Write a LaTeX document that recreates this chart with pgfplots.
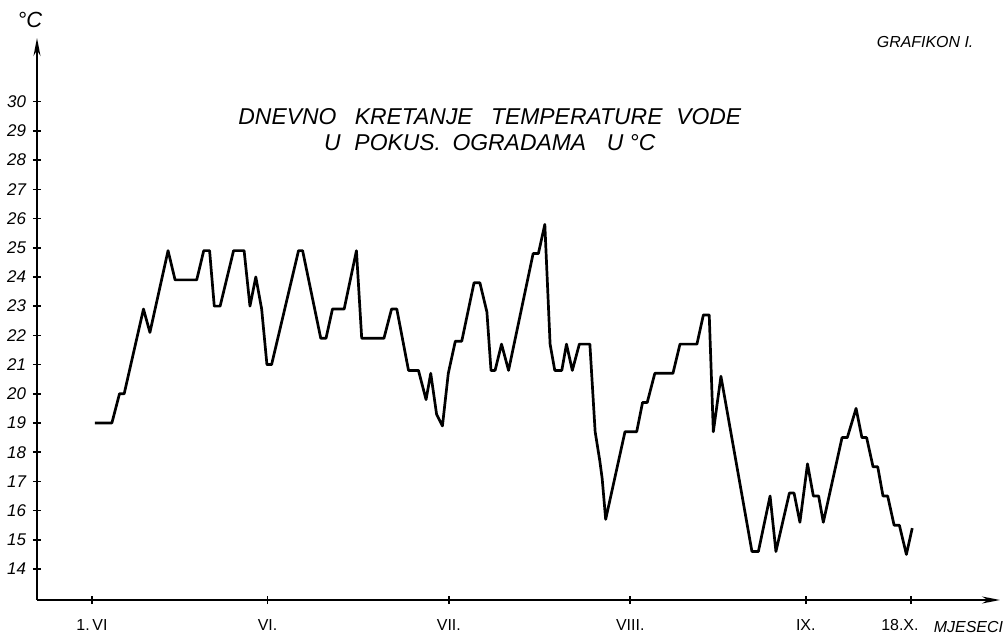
\documentclass[border=0pt]{standalone}
\usepackage{fontspec}
\setmainfont{Liberation Sans}
\usepackage{pgfplots}
\pgfplotsset{compat=1.18}
\usetikzlibrary{arrows.meta}

% day 0 = 1. VI, daily water temperature in the trial enclosures
\pgfplotstableread{
day temp
0.5 19
3.4 19
4.7 20
5.5 20
8.8 22.9
9.9 22.1
13.0 24.9
14.2 23.9
17.9 23.9
19.1 24.9
20.1 24.9
20.9 23
21.9 23
24.2 24.9
26.0 24.9
27.0 23
28.0 24
29.0 22.9
29.9 21
30.7 21
35.3 24.9
36.0 24.9
39.1 21.9
40.0 21.9
41.1 22.9
43.1 22.9
45.2 24.9
46.1 21.9
49.9 21.9
51.2 22.9
52.1 22.9
54.1 20.8
55.8 20.8
57.1 19.8
57.9 20.7
58.9 19.3
59.9 18.9
60.9 20.7
62.1 21.8
63.2 21.8
65.3 23.8
66.3 23.8
67.5 22.8
68.2 20.8
68.9 20.8
70.0 21.7
71.2 20.8
75.4 24.8
76.3 24.8
77.4 25.8
78.3 21.7
79.1 20.8
80.3 20.8
81.1 21.7
82.1 20.8
83.3 21.7
85.1 21.7
86.0 18.7
86.8 17.7
87.2 17.1
87.8 15.7
91.1 18.7
93.1 18.7
94.1 19.7
94.9 19.7
96.2 20.7
99.3 20.7
100.5 21.7
103.4 21.7
104.5 22.7
105.5 22.7
106.2 18.7
107.5 20.6
112.8 14.6
113.9 14.6
115.9 16.5
116.9 14.6
119.2 16.6
120.0 16.6
121.0 15.6
122.3 17.6
123.3 16.5
124.2 16.5
125.0 15.6
128.2 18.5
129.1 18.5
130.6 19.5
131.6 18.5
132.4 18.5
133.5 17.5
134.3 17.5
135.2 16.5
136.0 16.5
137.1 15.5
138.0 15.5
139.2 14.5
140.2 15.4
}\temps

\begin{document}
\begin{tikzpicture}
\useasboundingbox (-18.5bp,-21bp) rectangle (484bp,300bp);
\begin{axis}[
    scale only axis,
    width=481.5bp, height=281bp,
    xmin=-9.4, xmax=155.2,
    ymin=12.94, ymax=32.18,
    axis lines=left,
    axis line style={line width=1bp, -{Stealth[length=9bp,width=3.5bp]}},
    tick style={line width=0.8bp, black},
    major tick length=4bp,
    xtick={0,30,61,92,122,140},
    xticklabels={1.\,VI, VI., VII., VIII., IX., 18.X.\hspace*{1.4em}},
    ytick={14,15,...,30},
    /pgf/number format/assume math mode=true,
    y tick label style={font=\fontsize{8.5}{9}\selectfont\itshape},
    x tick label style={font=\fontsize{8}{9}\selectfont, yshift=-4bp},
    clip=false,
]
\addplot[black, line width=1.35bp, line join=round, mark=none] table[x=day, y=temp] {\temps};

\node[font=\fontsize{11.5}{13}\selectfont\itshape] at (axis cs:68.0,29.48)
  {DNEVNO\hspace{0.8em}KRETANJE\hspace{0.8em}TEMPERATURE\hspace{0.6em}VODE};
\node[font=\fontsize{11.5}{13}\selectfont\itshape] at (axis cs:68.0,28.6)
  {U\hspace{0.6em}POKUS.\hspace{0.5em}OGRADAMA\hspace{0.9em}U °C};
\node[font=\fontsize{11}{13}\selectfont\itshape] at (axis cs:-10.6,32.8) {°C};
\node[font=\fontsize{8}{9}\selectfont\itshape] at (axis cs:142.4,32.05) {GRAFIKON I.};
\node[font=\fontsize{8}{9}\selectfont\itshape] at (axis cs:149.8,12.0) {MJESECI};
\end{axis}
\end{tikzpicture}
\end{document}
